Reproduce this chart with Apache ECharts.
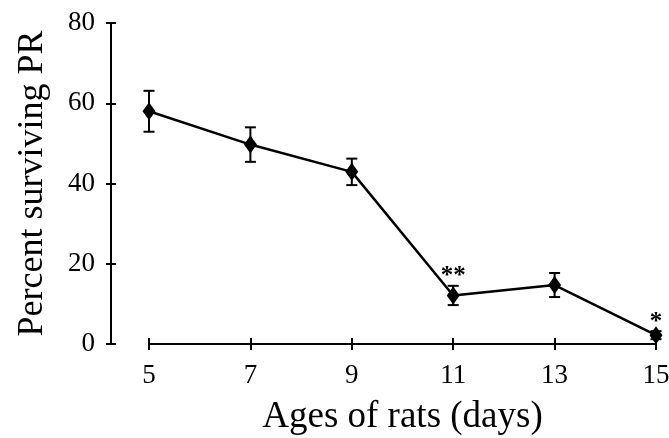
<!DOCTYPE html>
<html>
<head>
<meta charset="utf-8">
<script src="https://cdn.jsdelivr.net/npm/echarts@6/dist/echarts.min.js"></script>
<style>
  html, body { margin: 0; padding: 0; background: #fff; }
  #main { width: 669px; height: 438px; }
</style>
</head>
<body>
<div id="main"></div>
<script>
// ages (days) and survival means with error bars
var days = [5, 7, 9, 11, 13, 15];
var means = [58, 49.7, 42.9, 12.1, 14.7, 2.2];
var errs = [5.1, 4.3, 3.3, 2.4, 3.0, 1.0];
var sigMarks = ['', '', '', '**', '', '*'];
var yTicks = [0, 20, 40, 60, 80];

var FONT = '"Liberation Serif", "Times New Roman", serif';

var chart = echarts.init(document.getElementById('main'));

var points = days.map(function (d, i) { return [d, means[i]]; });
var bars = days.map(function (d, i) { return [d, means[i] - errs[i], means[i] + errs[i], i]; });

var option = {
    animation: false,
    backgroundColor: '#fff',
    grid: { left: 149, right: 13, top: 23, bottom: 94, outerBoundsMode: 'none' },
    xAxis: [{
        type: 'value',
        min: 5, max: 15, interval: 2,
        name: 'Ages of rats (days)',
        nameLocation: 'middle',
        nameGap: 55,
        nameTextStyle: { fontFamily: FONT, fontSize: 37, color: '#000' },
        axisLine: { show: true, lineStyle: { color: '#000', width: 2 } },
        axisTick: { show: true, inside: false, length: 6, lineStyle: { color: '#000', width: 2 } },
        axisLabel: { fontFamily: FONT, fontSize: 27, color: '#000', margin: 18 },
        splitLine: { show: false }
    }, {
        type: 'value',
        min: 5, max: 15, interval: 2,
        position: 'bottom',
        axisLine: { show: false },
        axisTick: { show: true, inside: true, length: 6, lineStyle: { color: '#000', width: 2 } },
        axisLabel: { show: false },
        splitLine: { show: false }
    }],
    yAxis: [{
        type: 'value',
        min: yTicks[0], max: yTicks[yTicks.length - 1], interval: 20,
        position: 'left',
        offset: 38,
        name: 'Percent surviving PR',
        nameLocation: 'middle',
        nameGap: 60,
        nameTextStyle: { fontFamily: FONT, fontSize: 36, color: '#000' },
        axisLine: { show: true, lineStyle: { color: '#000', width: 2 } },
        axisTick: { show: true, inside: false, length: 5, lineStyle: { color: '#000', width: 2 } },
        axisLabel: { fontFamily: FONT, fontSize: 27, color: '#000', margin: 16 },
        splitLine: { show: false }
    }, {
        type: 'value',
        min: yTicks[0], max: yTicks[yTicks.length - 1], interval: 20,
        position: 'left',
        offset: 38,
        axisLine: { show: false },
        axisTick: { show: true, inside: true, length: 5, lineStyle: { color: '#000', width: 2 } },
        axisLabel: { show: false },
        splitLine: { show: false }
    }],
    series: [{
        // 误差线 + 显著性标记
        type: 'custom',
        clip: false,
        z: 3,
        renderItem: function (params, api) {
            var x = api.value(0);
            var lo = api.coord([x, api.value(1)]);
            var hi = api.coord([x, api.value(2)]);
            var idx = api.value(3);
            var half = 5.5;
            var st = { stroke: '#000', lineWidth: 2 };
            var children = [
                { type: 'line', shape: { x1: lo[0], y1: lo[1], x2: hi[0], y2: hi[1] }, style: st },
                { type: 'line', shape: { x1: hi[0] - half, y1: hi[1], x2: hi[0] + half, y2: hi[1] }, style: st },
                { type: 'line', shape: { x1: lo[0] - half, y1: lo[1], x2: lo[0] + half, y2: lo[1] }, style: st }
            ];
            if (sigMarks[idx]) {
                children.push({
                    type: 'text',
                    style: {
                        text: sigMarks[idx],
                        x: hi[0], y: hi[1] - 9,
                        align: 'center', verticalAlign: 'middle',
                        font: 'bold 25px ' + FONT,
                        fill: '#000'
                    }
                });
            }
            return { type: 'group', children: children };
        },
        encode: { x: 0, y: [1, 2] },
        data: bars
    }, {
        type: 'line',
        clip: false,
        z: 4,
        data: points,
        symbol: 'diamond',
        symbolSize: [13, 18],
        itemStyle: { color: '#000' },
        lineStyle: { color: '#000', width: 2.5 }
    }]
};

chart.setOption(option);
</script>
</body>
</html>
